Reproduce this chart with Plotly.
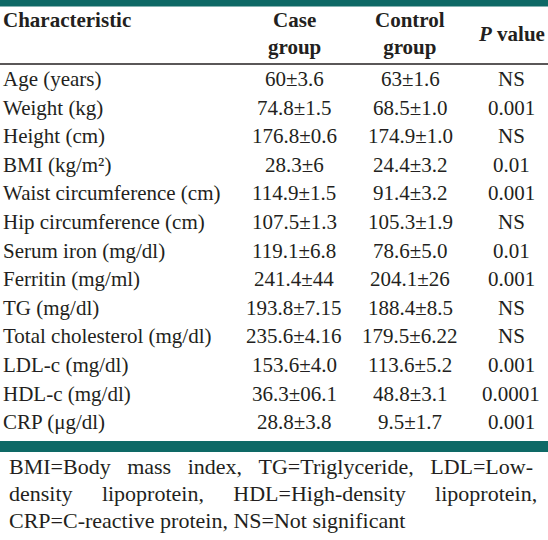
import plotly.graph_objects as go

W, H = 548, 540
TEAL = "#0e6966"
INK = "#231f20"

header = ["<b>Characteristic</b>", "<b>Case<br>group</b>", "<b>Control<br>group</b>", "<b><i>P</i> value</b>"]

characteristics = [
    "Age (years)", "Weight (kg)", "Height (cm)", "BMI (kg/m²)",
    "Waist circumference (cm)", "Hip circumference (cm)", "Serum iron (mg/dl)",
    "Ferritin (mg/ml)", "TG (mg/dl)", "Total cholesterol (mg/dl)",
    "LDL-c (mg/dl)", "HDL-c (mg/dl)", "CRP (&#956;g/dl)",
]
case_group = [
    "60±3.6", "74.8±1.5", "176.8±0.6", "28.3±6", "114.9±1.5", "107.5±1.3",
    "119.1±6.8", "241.4±44", "193.8±7.15", "235.6±4.16", "153.6±4.0",
    "36.3±06.1", "28.8±3.8",
]
control_group = [
    "63±1.6", "68.5±1.0", "174.9±1.0", "24.4±3.2", "91.4±3.2", "105.3±1.9",
    "78.6±5.0", "204.1±26", "188.4±8.5", "179.5±6.22", "113.6±5.2",
    "48.8±3.1", "9.5±1.7",
]
p_value = [
    "NS", "0.001", "NS", "0.01", "0.001", "NS", "0.01", "0.001", "NS", "NS",
    "0.001", "0.0001", "0.001",
]

# footnote lines, words joined with wider gaps to imitate the justified text
footnote_words = [
    ["BMI=Body", "mass", "index,", "TG=Triglyceride,", "LDL=Low-"],
    ["density", "lipoprotein,", "HDL=High-density", "lipoprotein,"],
    ["CRP=C-reactive", "protein,", "NS=Not", "significant"],
]
gaps = [" &#8194;", " &#8195;&#8202;", " "]

FONT = "Liberation Serif"
FS = 21
FS_NOTE = 22

# layout geometry (px)
col_x = [1, 294, 410, 511]
col_anchor = ["left", "center", "center", "center"]
ROW0, ROWH = 79, 28.6
rows = list(range(len(characteristics)))


def py(px):
    return (px - ROW0) / ROWH


annotations = []
columns = [characteristics, case_group, control_group, p_value]
for j, col in enumerate(columns):
    for r, txt in zip(rows, col):
        annotations.append(dict(
            xref="x", yref="y", x=col_x[j], y=r, text=txt,
            xanchor=col_anchor[j], yanchor="middle", showarrow=False,
            font=dict(family=FONT, size=FS, color=INK),
        ))
for j, txt in enumerate(header):
    annotations.append(dict(
        xref="x", yref="y", x=col_x[j], y=py(20 if j == 0 else 33.5), text=txt,
        xanchor=col_anchor[j], yanchor="middle", showarrow=False,
        font=dict(family=FONT, size=FS, color=INK),
    ))
for i, words in enumerate(footnote_words):
    annotations.append(dict(
        xref="x", yref="y", x=7, y=py(466 + 27 * i), text=gaps[i].join(words),
        xanchor="left", yanchor="middle", showarrow=False,
        font=dict(family=FONT, size=FS_NOTE, color=INK),
    ))

shapes = [
    dict(type="rect", xref="paper", yref="paper", x0=0, x1=1, y0=1 - 6.5 / H, y1=1,
         fillcolor=TEAL, line=dict(width=0)),
    dict(type="line", xref="paper", yref="paper", x0=0, x1=1, y0=1 - 64 / H, y1=1 - 64 / H,
         line=dict(color=INK, width=1.5)),
    dict(type="rect", xref="paper", yref="paper", x0=0, x1=1, y0=1 - 452 / H, y1=1 - 441 / H,
         fillcolor=TEAL, line=dict(width=0)),
]

fig = go.Figure()
fig.update_layout(
    width=W, height=H, margin=dict(l=0, r=0, t=0, b=0),
    font=dict(family=FONT, size=FS, color=INK),
    plot_bgcolor="white",
    xaxis=dict(range=[0, W], visible=False),
    yaxis=dict(range=[py(H), py(0)], visible=False),
    shapes=shapes, annotations=annotations,
)

fig.write_html(
    "out.html",
    config={"displayModeBar": False, "staticPlot": True},
    post_script="document.body.style.margin='0px';",
)
